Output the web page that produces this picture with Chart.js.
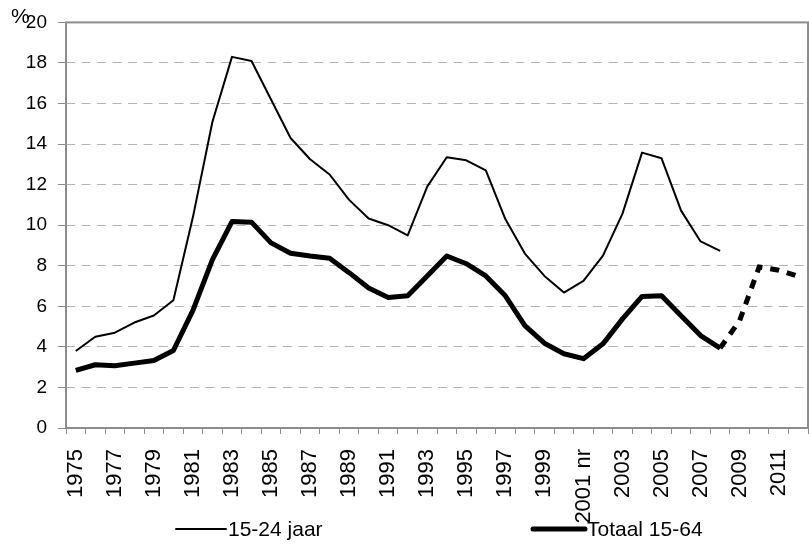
<!DOCTYPE html>
<html>
<head>
<meta charset="utf-8">
<script src="https://cdn.jsdelivr.net/npm/chart.js@4.4.0/dist/chart.umd.min.js"></script>
<style>
  html, body { margin: 0; padding: 0; background: #fff; }
  #wrap { width: 809px; height: 550px; }
</style>
</head>
<body>
<div id="wrap"><canvas id="chart" width="809" height="550"></canvas></div>
<script>
// years on the x axis (2001 is marked "nr" in the source)
const years = ['1975', '1976', '1977', '1978', '1979', '1980', '1981', '1982', '1983', '1984',
    '1985', '1986', '1987', '1988', '1989', '1990', '1991', '1992', '1993', '1994',
    '1995', '1996', '1997', '1998', '1999', '2000', '2001 nr', '2002', '2003', '2004',
    '2005', '2006', '2007', '2008', '2009', '2010', '2011', '2012'];

// 15-24 jaar
const youth = [3.8, 4.5, 4.7, 5.2, 5.55, 6.3, 10.4, 15.1, 18.3, 18.1,
    16.2, 14.3, 13.25, 12.5, 11.25, 10.33, 10.0, 9.5, 11.9, 13.35,
    13.2, 12.7, 10.3, 8.6, 7.5, 6.68, 7.25, 8.5, 10.57, 13.58,
    13.3, 10.72, 9.2, 8.73, null, null, null, null];

// Totaal 15-64
const total = [2.84, 3.12, 3.07, 3.2, 3.33, 3.82, 5.8, 8.3, 10.18, 10.15,
    9.13, 8.62, 8.48, 8.37, 7.66, 6.9, 6.44, 6.52, 7.5, 8.48,
    8.1, 7.5, 6.52, 5.05, 4.18, 3.66, 3.42, 4.15, 5.38, 6.49,
    6.52, 5.54, 4.56, 3.94, null, null, null, null];

// Totaal 15-64, projection (dotted)
const totalForecast = [null, null, null, null, null, null, null, null, null, null,
    null, null, null, null, null, null, null, null, null, null,
    null, null, null, null, null, null, null, null, null, null,
    null, null, null, 3.94, 5.3, 7.94, 7.78, 7.48];

const font = "'Liberation Sans', Arial, sans-serif";

const extras = {
    id: 'extras',
    afterDraw(chart) {
        const { ctx, chartArea: a } = chart;
        ctx.save();
        // plot frame
        ctx.strokeStyle = '#8c8c8c';
        ctx.lineWidth = 2;
        ctx.setLineDash([]);
        ctx.strokeRect(a.left, a.top, a.right - a.left, a.bottom - a.top);

        // unit label
        ctx.fillStyle = '#000';
        ctx.font = '21px ' + font;
        ctx.textBaseline = 'middle';
        ctx.textAlign = 'left';
        ctx.fillText('%', 11, 17);

        // legend
        const items = [
            { ds: chart.data.datasets[0], x: 176, w: 50 },
            { ds: chart.data.datasets[1], x: 533, w: 52 }
        ];
        const y = 529;
        ctx.font = '21px ' + font;
        items.forEach(it => {
            ctx.strokeStyle = it.ds.borderColor;
            ctx.lineWidth = it.ds.borderWidth;
            ctx.lineCap = 'round';
            ctx.beginPath();
            ctx.moveTo(it.x, y);
            ctx.lineTo(it.x + it.w, y);
            ctx.stroke();
            ctx.fillText(it.ds.label, it.x + it.w + 2, y + 1);
        });
        ctx.restore();
    }
};

new Chart(document.getElementById('chart'), {
    type: 'line',
    data: {
        labels: years,
        datasets: [
            {
                label: '15-24 jaar',
                data: youth,
                borderColor: '#000',
                borderWidth: 2,
                pointRadius: 0,
                tension: 0,
                borderJoinStyle: 'round'
            },
            {
                label: 'Totaal 15-64',
                data: total,
                borderColor: '#000',
                borderWidth: 5,
                pointRadius: 0,
                tension: 0,
                borderJoinStyle: 'round'
            },
            {
                label: 'Totaal 15-64 (prognose)',
                data: totalForecast,
                borderColor: '#000',
                borderWidth: 5,
                borderDash: [9, 8],
                borderCapStyle: 'butt',
                pointRadius: 0,
                tension: 0
            }
        ]
    },
    options: {
        responsive: false,
        animation: false,
        events: [],
        layout: { autoPadding: false, padding: { top: 20, right: 1, bottom: 0, left: 0 } },
        plugins: {
            legend: { display: false },
            tooltip: { enabled: false }
        },
        scales: {
            x: {
                offset: true,
                afterFit: s => {
                    s.height = 122;
                    s.paddingLeft = 0;
                    s.paddingRight = 0;
                },
                grid: {
                    offset: true,
                    drawOnChartArea: false,
                    drawTicks: true,
                    tickLength: 6,
                    tickColor: '#8c8c8c',
                    tickWidth: 1
                },
                border: { display: false },
                ticks: {
                    autoSkip: false,
                    maxRotation: 90,
                    minRotation: 90,
                    padding: 15,
                    color: '#000',
                    font: { family: font, size: 22 },
                    callback: function (v, i) {
                        return i % 2 === 0 ? this.getLabelForValue(v) : '';
                    }
                }
            },
            y: {
                min: 0,
                max: 20,
                afterFit: s => { s.width = 66; },
                grid: {
                    color: '#b4b4b4',
                    lineWidth: 1,
                    drawTicks: true,
                    tickLength: 8,
                    tickColor: '#8c8c8c',
                    tickBorderDash: []
                },
                border: { display: false, dash: [9, 6.5] },
                ticks: {
                    stepSize: 2,
                    padding: 11,
                    color: '#000',
                    font: { family: font, size: 19 }
                }
            }
        }
    },
    plugins: [extras]
});
</script>
</body>
</html>
